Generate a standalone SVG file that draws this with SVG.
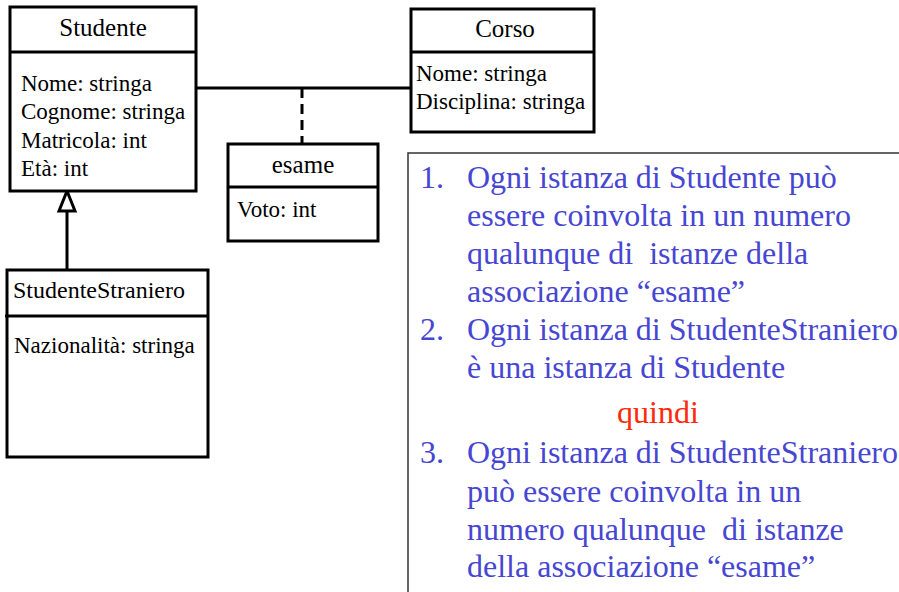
<svg xmlns="http://www.w3.org/2000/svg" width="899" height="592" viewBox="0 0 899 592">
<style>
.box{fill:#fff;stroke:#000;stroke-width:3}
.ln{stroke:#000;stroke-width:3;fill:none}
</style>
<rect width="899" height="592" fill="#fff"/>
<g id="connectors">
  <line class="ln" x1="196" y1="88" x2="411" y2="88"/>
  <line class="ln" x1="302" y1="88" x2="302" y2="144" stroke-dasharray="10 6"/>
  <line class="ln" x1="67" y1="211" x2="67" y2="270"/>
  <polygon points="67,191 59,211 75,211" fill="#fff" stroke="#000" stroke-width="3"/>
</g>
<g id="studente">
  <rect class="box" x="10" y="7" width="186" height="184"/>
  <line class="ln" x1="10" y1="52" x2="196" y2="52"/>
  <text x="103" y="36" font-family="Liberation Serif" font-size="25" text-anchor="middle">Studente</text>
  <g font-family="Liberation Serif" font-size="23">
  <text x="21" y="91">Nome: stringa</text>
  <text x="21" y="119">Cognome: stringa</text>
  <text x="21" y="148">Matricola: int</text>
  <text x="21" y="176">Età: int</text>
  </g>
</g>
<g id="corso">
  <rect class="box" x="411" y="9" width="183" height="123"/>
  <line class="ln" x1="411" y1="52" x2="594" y2="52"/>
  <text x="505" y="37" font-family="Liberation Serif" font-size="25" text-anchor="middle">Corso</text>
  <g font-family="Liberation Serif" font-size="23">
  <text x="416" y="81">Nome: stringa</text>
  <text x="416" y="109">Disciplina: stringa</text>
  </g>
</g>
<g id="esame">
  <rect class="box" x="228" y="144" width="150" height="97"/>
  <line class="ln" x1="228" y1="187" x2="378" y2="187"/>
  <text x="303" y="173" font-family="Liberation Serif" font-size="25" text-anchor="middle">esame</text>
  <text x="237" y="217" font-family="Liberation Serif" font-size="23">Voto: int</text>
</g>
<g id="studentestraniero">
  <rect class="box" x="7" y="270" width="201" height="187"/>
  <line class="ln" x1="5" y1="316" x2="208" y2="316"/>
  <text x="13" y="298" font-family="Liberation Serif" font-size="24">StudenteStraniero</text>
  <text x="14" y="353" font-family="Liberation Serif" font-size="23">Nazionalità: stringa</text>
</g>
<g id="notes">
  <rect x="408" y="153" width="520" height="460" fill="none" stroke="#333" stroke-width="1.5"/>
  <g font-family="Liberation Serif" font-size="32" fill="#4646d2">
  <text x="420" y="188">1.</text>
  <text x="467" y="188">Ogni istanza di Studente può</text>
  <text x="467" y="226">essere coinvolta in un numero</text>
  <text x="467" y="264" xml:space="preserve">qualunque di  istanze della</text>
  <text x="467" y="302">associazione “esame”</text>
  <text x="420" y="340">2.</text>
  <text x="467" y="340">Ogni istanza di StudenteStraniero</text>
  <text x="467" y="378">è una istanza di Studente</text>
  <text x="617" y="423" fill="#ff2a0a">quindi</text>
  <text x="420" y="463">3.</text>
  <text x="467" y="463">Ogni istanza di StudenteStraniero</text>
  <text x="467" y="502">può essere coinvolta in un</text>
  <text x="467" y="540" xml:space="preserve">numero qualunque  di istanze</text>
  <text x="467" y="577">della associazione “esame”</text>
  </g>
</g>
</svg>
